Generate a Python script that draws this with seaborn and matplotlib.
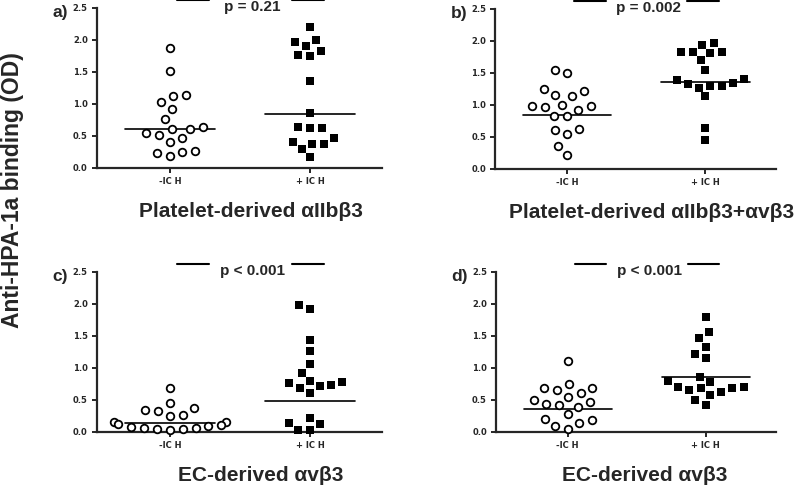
import matplotlib
matplotlib.use("Agg")
import matplotlib.pyplot as plt
from matplotlib.path import Path
import seaborn as sns
import numpy as np

# groups and values (OD)
groups = ["-IC H", "+ IC H"]

a_neg = [1.87, 1.51, 1.14, 1.12, 1.03, 0.92, 0.76, 0.64, 0.61, 0.60, 0.54, 0.51,
         0.46, 0.41, 0.27, 0.25, 0.24, 0.19]
a_pos = [2.20, 1.99, 1.97, 1.91, 1.82, 1.76, 1.75, 1.35, 0.85, 0.64, 0.63, 0.63,
         0.46, 0.41, 0.38, 0.37, 0.29, 0.17]

b_neg = [1.55, 1.49, 1.25, 1.21, 1.16, 1.13, 1.00, 0.98, 0.98, 0.96, 0.92, 0.82,
         0.82, 0.63, 0.61, 0.54, 0.35, 0.21]
b_pos = [1.97, 1.94, 1.83, 1.83, 1.82, 1.81, 1.70, 1.54, 1.40, 1.39, 1.34, 1.33,
         1.29, 1.29, 1.27, 1.13, 0.64, 0.45]

c_neg = [0.68, 0.45, 0.375, 0.34, 0.33, 0.27, 0.25, 0.16, 0.16, 0.125, 0.11,
         0.09, 0.08, 0.06, 0.06, 0.05, 0.05, 0.03]
c_pos = [1.98, 1.92, 1.44, 1.26, 1.06, 0.92, 0.80, 0.78, 0.76, 0.74, 0.71, 0.69,
         0.61, 0.22, 0.14, 0.12, 0.03, 0.03]

d_neg = [1.11, 0.745, 0.69, 0.68, 0.65, 0.60, 0.55, 0.50, 0.46, 0.44, 0.42, 0.39,
         0.28, 0.20, 0.18, 0.14, 0.09, 0.04]
d_pos = [1.80, 1.56, 1.47, 1.33, 1.21, 1.15, 0.86, 0.79, 0.78, 0.70, 0.70, 0.69,
         0.68, 0.65, 0.625, 0.58, 0.50, 0.42]

medians = {"a": [0.60, 0.835], "b": [0.84, 1.36], "c": [0.14, 0.485], "d": [0.355, 0.85]}
p_labels = {"a": "p = 0.21", "b": "p = 0.002", "c": "p < 0.001", "d": "p < 0.001"}
titles = {"a": "Platelet-derived \u03b1IIb\u03b23",
          "b": "Platelet-derived \u03b1IIb\u03b23+\u03b1v\u03b23",
          "c": "EC-derived \u03b1v\u03b23",
          "d": "EC-derived \u03b1v\u03b23"}
yticks = [0.0, 0.5, 1.0, 1.5, 2.0, 2.5]


def padded(path, scale):
    # shrink the visible marker inside an invisible bounding point so the
    # swarm spreads the points a bit wider, like the GraphPad layout
    verts = np.vstack([[[1.0, 0.0]], path.vertices * scale])
    codes = np.concatenate([[Path.MOVETO], path.codes])
    return Path(verts, codes)


circle = Path.unit_circle()
square = Path([[-1, -1], [1, -1], [1, 1], [-1, 1], [-1, -1]],
              [Path.MOVETO, Path.LINETO, Path.LINETO, Path.LINETO, Path.CLOSEPOLY])
circle_marker = padded(circle, 0.72)
square_marker = padded(square, 0.66)

sns.set_style("ticks")
plt.rcParams['font.family'] = ['Liberation Sans', 'DejaVu Sans']

fig = plt.figure(figsize=(8, 4.88), dpi=100)

panels = {
    "a": ([0.121, 0.656, 0.356, 0.328], a_neg, a_pos, 0.58),
    "b": ([0.619, 0.654, 0.351, 0.328], b_neg, b_pos, 0.61),
    "c": ([0.121, 0.115, 0.356, 0.328], c_neg, c_pos, 0.65),
    "d": ([0.620, 0.115, 0.350, 0.328], d_neg, d_pos, 0.56),
}

tick_font = dict(family="DejaVu Sans", weight="bold", size=6)

for key, (rect, neg, pos, title_x) in panels.items():
    ax = fig.add_axes(rect)
    sns.swarmplot(x=[groups[0]] * len(neg), y=neg, order=groups, ax=ax,
                  marker=circle_marker, color="white", edgecolor="black",
                  linewidth=1.3, size=7.6)
    sns.swarmplot(x=[groups[1]] * len(pos), y=pos, order=groups, ax=ax,
                  marker=square_marker, color="black", edgecolor="black",
                  linewidth=0, size=8.0)
    for coll in ax.collections:
        coll.set_clip_on(False)

    # median lines
    for i, m in enumerate(medians[key]):
        ax.plot([i - 0.32, i + 0.32], [m, m], color="black", lw=1.2, zorder=1)

    ax.set_xlim(-0.52, 1.51)
    ax.set_ylim(0, 2.5)
    ax.set_yticks(yticks)
    ax.set_yticklabels([f"{v:.1f}" for v in yticks], fontdict=tick_font)
    ax.set_xticks([0, 1])
    ax.set_xticklabels(groups, fontdict=tick_font)
    ax.set_xlabel("")
    ax.set_ylabel("")
    ax.tick_params(axis="both", length=3.5, width=1.4, pad=3)
    for side in ["top", "right"]:
        ax.spines[side].set_visible(False)
    for side in ["left", "bottom"]:
        ax.spines[side].set_linewidth(1.6)

    # p-value with bracket lines
    ax.plot([0.05, 0.28], [2.62, 2.62], color="black", lw=1.5, clip_on=False)
    ax.plot([0.87, 1.1], [2.62, 2.62], color="black", lw=1.5, clip_on=False)
    ax.text(0.59, 2.52, p_labels[key], ha="center", va="center",
            fontsize=11, fontweight="bold", clip_on=False)

    # panel letter
    ax.text(-0.13, 0.97, key + ")", transform=ax.transAxes, ha="center", va="center",
            fontsize=12.5, fontweight="bold")

    # panel title below the axis
    ax.text(title_x, -0.77, titles[key], ha="center", va="baseline",
            fontsize=15, fontweight="bold", clip_on=False)

fig.text(0.016, 0.61, "Anti-HPA-1a binding (OD)", rotation=90, ha="center", va="center",
         fontsize=16.5, fontweight="bold")

fig.savefig("out.png", dpi=100)
